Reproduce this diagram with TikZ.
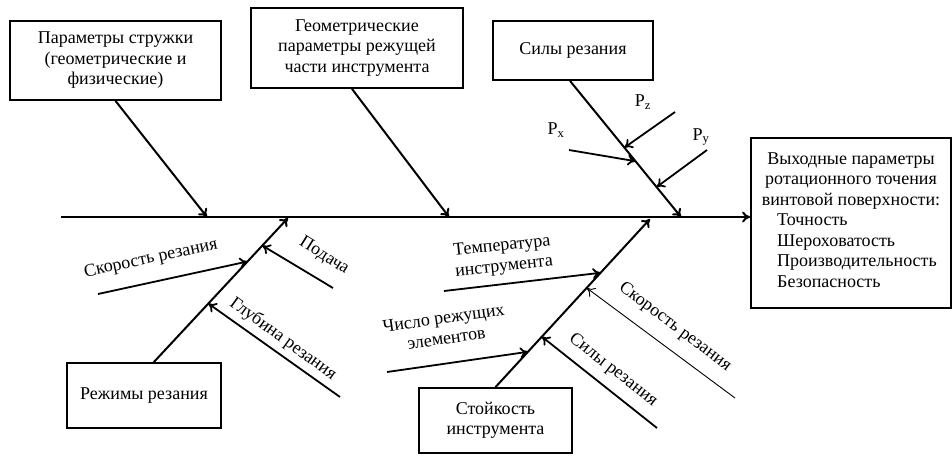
\documentclass[tikz,border=0pt]{standalone}
\usepackage{fontspec}
\setmainfont{Liberation Serif}
\usetikzlibrary{calc,arrows.meta}
\newcommand{\fishfont}{\fontsize{18}{20.5}\selectfont}
\tikzset{
  box/.style={draw, line width=1.8pt, align=center, inner sep=2pt, font=\fishfont},
  bone/.style={line width=2pt, -{To[length=8pt,width=11pt]}},
  twig/.style={line width=1.8pt, -{To[length=8pt,width=11pt]}},
  faint/.style={line width=0.9pt},
  lab/.style={font=\fishfont, inner sep=1pt}
}

\begin{document}
\begin{tikzpicture}[x=1pt,y=-1pt]
  \useasboundingbox (0,0) rectangle (952,456);

  % causes
  \node[box, minimum width=211, minimum height=79] (chip) at (115.5,60.5)
    {Параметры стружки\\(геометрические и\\физические)};
  \node[box, minimum width=212, minimum height=80] (geom) at (357,48)
    {Геометрические\\параметры режущей\\части инструмента};
  \node[box, minimum width=160, minimum height=59] (forces) at (573,50.5)
    {Силы резания};
  \node[box, minimum width=154, minimum height=65] (mode) at (144,395.5)
    {Режимы резания};
  \node[box, minimum width=153, minimum height=65] (life) at (495.5,420.5)
    {Стойкость\\инструмента};

  % effect
  \node[box, minimum width=200, minimum height=170] (out) at (851,223)
    {Выходные параметры\\ротационного точения\\винтовой поверхности:\\
     \hspace*{12pt}\begin{tabular}[t]{@{}l@{}}Точность\\Шероховатость\\Производительность\\Безопасность\end{tabular}};

  % spine
  \coordinate (tail) at (61,217);
  \draw[bone] (tail) -- (tail -| out.west);

  \coordinate (t1) at (207,217);
  \coordinate (t2) at (449,217);
  \coordinate (t3) at (681,217);
  \coordinate (t4) at (288,218);
  \coordinate (t5) at (650,219);
  \coordinate (m0) at (153,363);

  \draw[bone] (chip.south) -- (t1);
  \draw[bone] (geom.south -| 352,0) -- (t2);
  \draw[bone] (forces.south -| 570,0) -- (t3);
  \draw[bone] (m0) -- (t4);
  \draw[bone] (life.north) -- (t5);

  % cutting forces
  \coordinate (fz) at ($(forces.south -| 570,0)!0.49!(t3)$);
  \coordinate (fx) at ($(forces.south -| 570,0)!0.59!(t3)$);
  \coordinate (fy) at ($(forces.south -| 570,0)!0.78!(t3)$);
  \coordinate (pz) at (675,112);
  \coordinate (px) at (569,150);
  \coordinate (py) at (707,150);
  \draw[twig] (pz) -- (fz);
  \draw[twig] (px) -- (fx);
  \draw[twig] (py) -- (fy);
  \node[lab] (lz) at (643,102) {P\textsubscript{z}};
  \node[lab] (lx) at (556,130) {P\textsubscript{x}};
  \node[lab] (ly) at (701,137) {P\textsubscript{y}};

  % cutting modes
  \coordinate (mv) at ($(m0)!0.70!(t4)$);
  \coordinate (ms) at ($(m0)!0.81!(t4)$);
  \coordinate (mt) at ($(m0)!0.41!(t4)$);
  \coordinate (av) at (98,294);
  \coordinate (as) at (333,288);
  \coordinate (at) at (340,397);
  \draw[twig] (av) -- (mv);
  \draw[twig] (as) -- (ms);
  \draw[twig] (at) -- (mt);
  \node[lab, rotate=12] (lv) at (151,259) {Скорость резания};
  \node[lab, rotate=-32] (ls) at (324,256) {Подача};
  \node[lab, rotate=-36] (lt) at (283,339) {Глубина резания};

  % tool life
  \coordinate (wt) at ($(life.north)!0.68!(t5)$);
  \coordinate (wn) at ($(life.north)!0.21!(t5)$);
  \coordinate (wv) at ($(life.north)!0.59!(t5)$);
  \coordinate (wf) at ($(life.north)!0.30!(t5)$);
  \coordinate (bt) at (444,291);
  \coordinate (bn) at (387,372);
  \coordinate (bv) at (735,398);
  \coordinate (bf) at (657,428);
  \draw[twig] (bt) -- (wt);
  \draw[twig] (bn) -- (wn);
  \draw[faint, -{To[length=8pt,width=11pt]}] (bv) -- (wv);
  \draw[twig] (bf) -- (wf);
  \node[lab, rotate=6, align=center] (lt2) at (503,257) {Температура\\инструмента};
  \node[lab, rotate=8, align=center] (ln) at (445,328) {Число режущих\\элементов};
  \node[lab, rotate=-37] (lv2) at (675,327) {Скорость резания};
  \node[lab, rotate=-38] (lf) at (613,370) {Силы резания};
\end{tikzpicture}
\end{document}
